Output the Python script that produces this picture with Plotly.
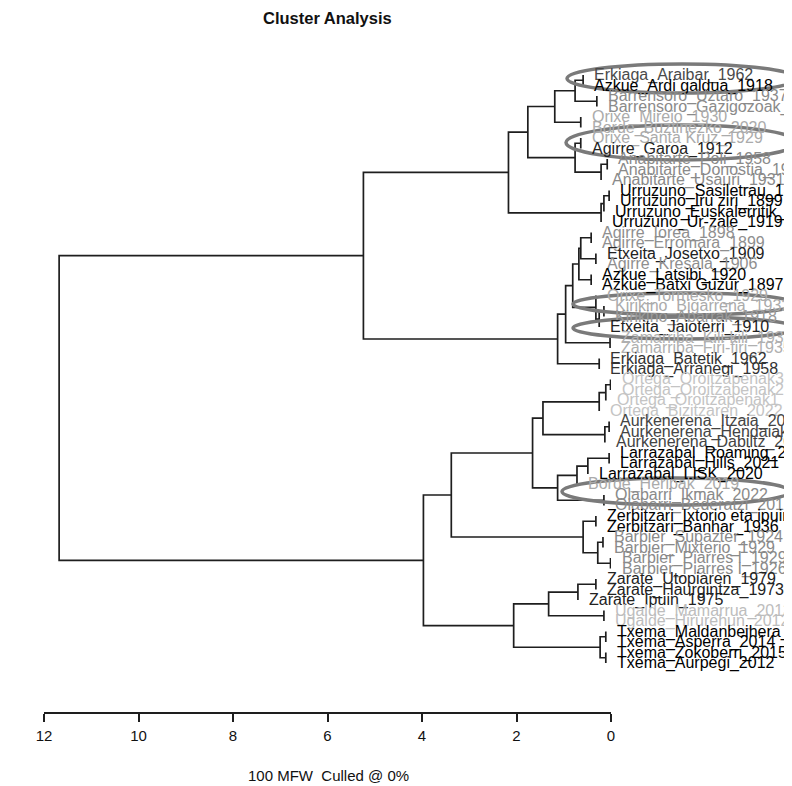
import plotly.graph_objects as go

# ---------------- data ----------------
leaf_labels = [
    "Erkiaga_Araibar_1962", "Azkue_Ardi galdua_1918", "Barrensoro_Uztaro_1937",
    "Barrensoro_Gazigozoak_1935", "Orixe_Mireio_1930", "Borde_Buztinezko_2020",
    "Orixe_Santa Kruz_1929", "Agirre_Garoa_1912", "Anabitarte_Poli_1958",
    "Anabitarte_Donostia_1932", "Anabitarte_Usauri_1931", "Urruzuno_Sasiletrau_1888",
    "Urruzuno_Iru ziri_1899", "Urruzuno_Euskalerritik_1930", "Urruzuno_Ur-zale_1919",
    "Agirre_Iorea_1898", "Agirre_Erromara_1899", "Etxeita_Josetxo_1909",
    "Agirre_Kresala_1906", "Azkue_Latsibi_1920", "Azkue_Batxi Guzur_1897",
    "Orixe_Tormesko_1929", "Kirikino_Bigarrena_1932", "Kirikino_Abarrak_1918",
    "Etxeita_Jaioterri_1910", "Zamarriba_Kili-kili_1930", "Zamarriba_Firi-firi_1935",
    "Erkiaga_Batetik_1962", "Erkiaga_Arranegi_1958", "Ortega_Oroitzapenak3",
    "Ortega_Oroitzapenak2", "Ortega_Oroitzapenak1", "Ortega_Bizitzaren_2022",
    "Aurkenerena_Itzaia_2020", "Aurkenerena_Hendaiako_2021", "Aurkenerena_Dabiltz_2021",
    "Larrazabal_Roaming_2022", "Larrazabal_Hills_2021", "Larrazabal_LISK_2020",
    "Borde_Heripak_2019", "Olabarri_Ikmak_2022", "Olabarri_Bederatzi_2019",
    "Zerbitzari_Ixtorio eta ipuin_1930", "Zerbitzari_Banhar_1936", "Barbier_Supazter_1924",
    "Barbier_Mixterio_1929", "Barbier_Piarres I_1929", "Barbier_Piarres I_1926",
    "Zarate_Utopiaren_1979", "Zarate_Haurgintza_1973", "Zarate_Ipuin_1975",
    "Ugalde_Mamarrua_2013", "Ugalde_Hirurehun_2012", "Txema_Maldanbeihera_2016",
    "Txema_Asperra_2014", "Txema_Zokoberri_2015", "Txema_Aurpegi_2012",
]

leaf_colors = [
    "#4a4a4a", "#000000", "#8a8a8a", "#8a8a8a", "#ababab", "#ababab",
    "#ababab", "#222222", "#8a8a8a", "#8a8a8a", "#8a8a8a", "#000000",
    "#000000", "#000000", "#000000", "#8f8f8f", "#8f8f8f", "#222222",
    "#8f8f8f", "#000000", "#000000", "#ababab", "#ababab", "#999999",
    "#222222", "#b0b0b0", "#b0b0b0", "#333333", "#333333", "#c4c4c4",
    "#c4c4c4", "#c4c4c4", "#c4c4c4", "#444444", "#444444", "#444444",
    "#000000", "#000000", "#000000", "#ababab", "#8a8a8a", "#8a8a8a",
    "#000000", "#000000", "#8a8a8a", "#8a8a8a", "#8a8a8a", "#8a8a8a",
    "#222222", "#222222", "#222222", "#bdbdbd", "#bdbdbd", "#000000",
    "#000000", "#000000", "#000000",
]

# merge table (hclust style): negative = leaf -(index+1), non-negative = earlier merge
merge_a = [-1, -3, 0, -5, 2, -7, -9, 6, 5, 4, -12, 10, 11, 9,
           -16, -18, 14, -20, 16, -23, 19, -22, 18, -26, 22, -28, 24, 13,
           -30, 28, 29, -34, 31, 30, -37, 34, 35, -41, 36, 33,
           -43, -45, -47, 41, 40, 39, -49, 46, -52, 47, -54, -56, 50, 49, 45, 27]
merge_b = [-2, -4, 1, -6, 3, -8, -10, -11, 7, 8, -13, -14, -15, 12,
           -17, -19, 15, -21, 17, -24, -25, 20, 21, -27, 23, -29, 25, 26,
           -31, -32, -33, -35, -36, 32, -38, -39, -40, -42, 37, 38,
           -44, -46, -48, 42, 43, 44, -50, -51, -53, 48, -55, -57, 51, 52, 53, 54]
merge_h = [0.59, 0.30, 0.76, 0.64, 1.19, 0.64, 0.08, 0.21, 0.76, 1.76, 0.04, 0.15, 0.21, 2.17,
           0.42, 0.32, 0.64, 0.42, 0.68, 0.15, 0.25, 0.32, 0.81, 0.02, 0.96, 0.25, 1.13, 5.24,
           0.01, 0.11, 0.25, 0.04, 0.13, 1.44, 0.04, 0.49, 0.72, 0.15, 1.13, 1.66,
           0.32, 0.17, 0.01, 0.28, 0.59, 3.38, 0.32, 0.70, 0.15, 1.32, 0.11, 0.11, 0.23, 2.06,
           3.97, 11.68]

x_ticks = [0, 2, 4, 6, 8, 10, 12]
title_text = "Cluster Analysis"
subtitle_text = "100 MFW  Culled @ 0%"

# ---------------- page geometry (screen pixels) ----------------
OFF = 8                      # page body margin
FW, FH = 776, 778            # figure size
X12, X0 = 44, 611            # screen x of axis values 12 and 0
AXIS_Y = 712                 # screen y of axis line
TOP_Y = 40                   # screen y of top of plot area
LEAF0_Y, LEAF_STEP = 75, 10.5

T = TOP_Y - OFF
B = FH - (AXIS_Y - OFF)
PH = FH - T - B
XMAX = max(x_ticks)


def sx_to_paper(sx):
    return (sx - OFF) / FW


def sy_to_paper(sy):
    return (FH - B - (sy - OFF)) / PH


def h_to_sx(h):
    return X0 - h * (X0 - X12) / XMAX


# ---------------- build dendrogram geometry ----------------
n_leaves = len(leaf_labels)
node_y, node_h = {}, {}
leaf_parent_h = [0.0] * n_leaves
xs, ys = [], []


def child_pos(c, h_parent):
    if c < 0:
        i = -c - 1
        leaf_parent_h[i] = h_parent
        return h_parent, float(i)
    return node_h[c], node_y[c]


for m, (a, b, h) in enumerate(zip(merge_a, merge_b, merge_h)):
    ha, ya = child_pos(a, h)
    hb, yb = child_pos(b, h)
    xs += [ha, h, h, hb, None]
    ys += [ya, ya, yb, yb, None]
    node_h[m] = h
    node_y[m] = (ya + yb) / 2

fig = go.Figure()
fig.add_trace(go.Scatter(x=xs, y=ys, mode="lines",
                         line=dict(color="#1e1e1e", width=1.7),
                         hoverinfo="skip", showlegend=False))

FONT = "Liberation Sans, Arial, sans-serif"
annotations = []
for i, (lab, col) in enumerate(zip(leaf_labels, leaf_colors)):
    sx = h_to_sx(leaf_parent_h[i]) + 9
    sy = LEAF0_Y + i * LEAF_STEP
    annotations.append(dict(x=sx_to_paper(sx), y=sy_to_paper(sy), xref="paper", yref="paper",
                            text=lab, showarrow=False, xanchor="left", yanchor="middle",
                            font=dict(family=FONT, size=16, color=col)))

annotations.append(dict(x=sx_to_paper(327), y=sy_to_paper(18), xref="paper", yref="paper",
                        text="<b>" + title_text + "</b>", showarrow=False,
                        xanchor="center", yanchor="middle",
                        font=dict(family=FONT, size=16.5, color="#111111")))
annotations.append(dict(x=sx_to_paper(328), y=sy_to_paper(775), xref="paper", yref="paper",
                        text=subtitle_text, showarrow=False,
                        xanchor="center", yanchor="middle",
                        font=dict(family=FONT, size=15, color="#111111")))

# highlight ellipses (screen pixel boxes)
ellipses = [(567, 797, 64, 93), (566, 797, 125, 160), (573, 797, 293, 315),
            (573, 797, 317, 339), (562, 790, 478, 505)]
shapes = []
for x0, x1, y0, y1 in ellipses:
    shapes.append(dict(type="circle", xref="paper", yref="paper",
                       x0=sx_to_paper(x0), x1=sx_to_paper(x1),
                       y0=sy_to_paper(y1), y1=sy_to_paper(y0),
                       line=dict(color="#7a7a7a", width=3.5)))

y_top = (TOP_Y - LEAF0_Y) / LEAF_STEP
y_bot = (AXIS_Y - LEAF0_Y) / LEAF_STEP

fig.update_layout(
    width=FW, height=FH,
    margin=dict(l=0, r=0, t=T, b=B, autoexpand=False),
    paper_bgcolor="white", plot_bgcolor="white",
    annotations=annotations, shapes=shapes,
    xaxis=dict(domain=[sx_to_paper(X12), sx_to_paper(X0)], range=[XMAX, 0], tickvals=x_ticks,
               ticks="outside", ticklen=8, tickwidth=1.5, tickcolor="#1e1e1e",
               showline=True, linecolor="#1e1e1e", linewidth=1.5, automargin=False,
               showgrid=False, zeroline=False, ticklabelstandoff=1,
               tickfont=dict(family=FONT, size=15, color="#111111")),
    yaxis=dict(range=[y_bot, y_top], visible=False, showgrid=False, zeroline=False,
               automargin=False),
)

fig.write_html("out.html")
